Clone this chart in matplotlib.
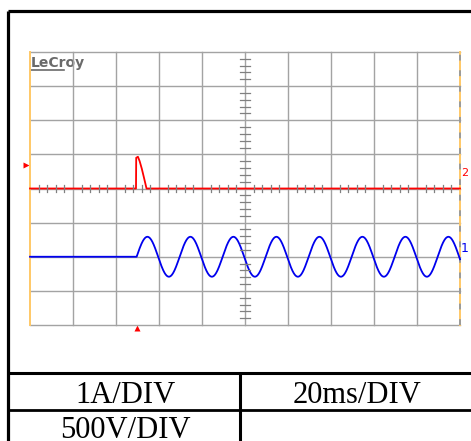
import numpy as np
import matplotlib
matplotlib.use('Agg')
import matplotlib.pyplot as plt

# scope settings (divisions)
n_xdiv = 10
n_ydiv = 8

# channel 2 (red): short current pulse, then flat at 0 div
red_t = [0.0, 2.465, 2.47, 2.51, 2.55, 2.60, 2.65, 2.71, 10.0]
red_v = [0.0, 0.0, 0.90, 0.93, 0.80, 0.58, 0.32, 0.0, 0.0]

# channel 1 (blue): flat at -2 div, then a 50 Hz sine (1 period per div)
blue_offset = -2.0
blue_amp = 0.585
blue_start = 2.48
blue_period = 1.0

# table text
table_left = ['1A/DIV', '500V/DIV']
table_right = ['20ms/DIV', '']

W, H = 471, 441
fig = plt.figure(figsize=(W / 100, H / 100), dpi=100)

# pixel axes for the frame / table
bg = fig.add_axes([0, 0, 1, 1])
bg.set_xlim(0, W)
bg.set_ylim(H, 0)
bg.axis('off')

# outer frame and table lines
bg.plot([7.5, 7.5], [10.5, H + 5], color='black', lw=2.3, solid_capstyle='butt')
bg.plot([7.5, W + 5], [10.5, 10.5], color='black', lw=2.3, solid_capstyle='butt')
bg.plot([7.5, W + 5], [372.5, 372.5], color='black', lw=2.2, solid_capstyle='butt')
bg.plot([7.5, W + 5], [409.5, 409.5], color='black', lw=2.0, solid_capstyle='butt')
bg.plot([240, 240], [372.5, H + 5], color='black', lw=2.2, solid_capstyle='butt')

for i, s in enumerate(table_left):
    bg.text(125, 403 + i * 35, s, ha='center', va='baseline',
            fontsize=22, family='Liberation Serif')
for i, s in enumerate(table_right):
    if s:
        bg.text(357, 403 + i * 35, s, ha='center', va='baseline',
                fontsize=22, family='Liberation Serif')

# scope graticule
x0, x1, y0, y1 = 30, 460, 52, 325
ax = fig.add_axes([x0 / W, 1 - y1 / H, (x1 - x0) / W, (y1 - y0) / H])
ax.set_xlim(0, n_xdiv)
ax.set_ylim(-n_ydiv / 2, n_ydiv / 2)
ax.axis('off')

grid_c = '#a3a3a3'
for i in range(1, n_xdiv):
    ax.axvline(i, color=grid_c, lw=1.0, zorder=1, clip_on=False)
for j in range(n_ydiv + 1):
    ax.axhline(j - n_ydiv / 2, color=grid_c, lw=1.0, zorder=1, clip_on=False)
# orange side borders
ax.axvline(0, color='#ffc866', lw=1.4, zorder=2, clip_on=False)
ax.axvline(n_xdiv, color='#ffc866', lw=1.4, zorder=2, clip_on=False)
ax.axvline(n_xdiv, color='#9a9a9a', lw=1.4, ls=(0, (3, 5)), zorder=2, clip_on=False)

# minor ticks on the centre cross
tick_c = '#808080'
for k in range(n_xdiv * 5):
    if k % 5:
        t = k * 0.2
        ax.plot([t, t], [-0.1, 0.1], color=tick_c, lw=0.9, zorder=5)
for k in range(n_ydiv * 5):
    if k % 5:
        v = k * 0.2 - n_ydiv / 2
        ax.plot([4.88, 5.12], [v, v], color=tick_c, lw=0.9, zorder=5)

# traces
ax.plot(red_t, red_v, color='#ff0000', lw=1.3, zorder=4, clip_on=False)

t = np.linspace(0, n_xdiv, 2000)
phase = np.clip(t - blue_start, 0, None)
blue_v = blue_offset + blue_amp * np.sin(2 * np.pi * phase / blue_period)
ax.plot(t, blue_v, color='#0000ee', lw=1.3, zorder=3, clip_on=False)

# LeCroy logo
bg.text(31, 67, 'LeCroy', fontsize=10, fontweight='bold', color='#6a6a6a',
        family=['Liberation Sans Narrow', 'DejaVu Sans'], va='baseline')
bg.plot([31, 64], [70, 70], color='#6a6a6a', lw=1.2)

# channel / trigger markers
bg.plot(26, 165, marker='>', color='#ff0000', ms=4, mec='none')
bg.plot(137, 327.5, marker='^', color='#ff0000', ms=5, mec='none')
bg.text(461, 173, '2', fontsize=8, color='#ff0000', va='center', ha='left')
bg.text(461, 248, '1', fontsize=9, color='#0000ee', va='center', ha='left')

fig.savefig('out.png', dpi=100)
